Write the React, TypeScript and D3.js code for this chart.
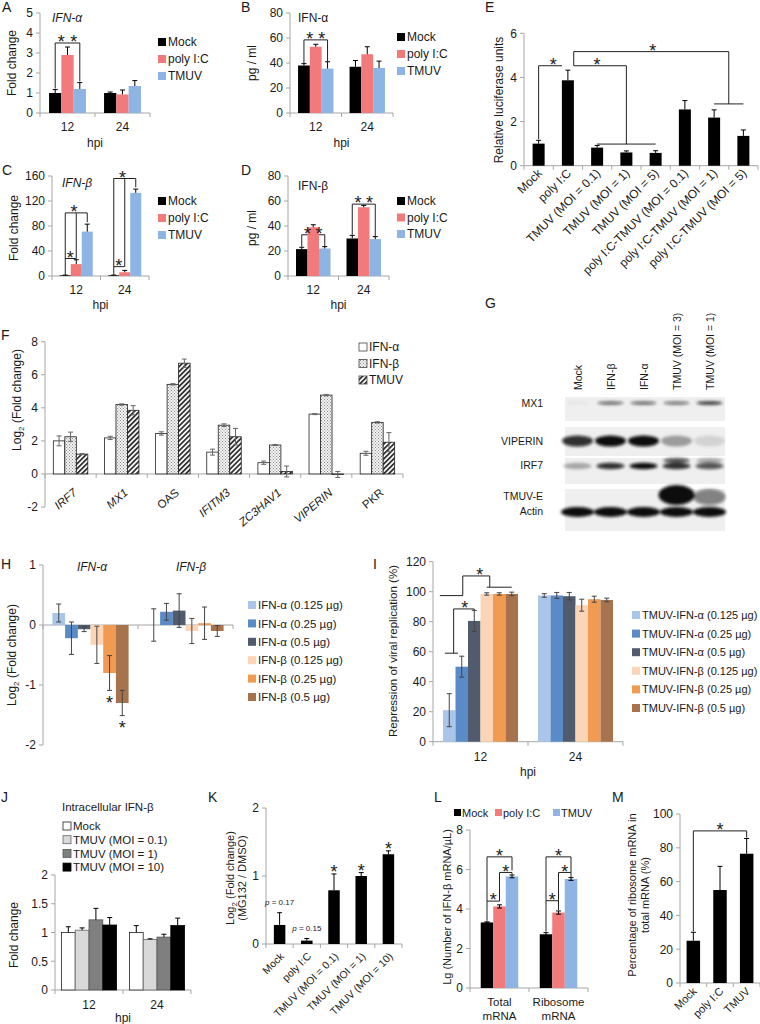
import React from 'react';
import * as d3 from 'd3';

const FONT = '"Liberation Sans", Arial, Helvetica, sans-serif';
const AX = '#a6a6a6';
const TXT = '#1a1a1a';

// ---------- A / B / C / D ----------
const hpi = ['12', '24'];
const ifnGroups = ['Mock', 'poly I:C', 'TMUV'];
const ifnColors = ['#000000', '#f27a7a', '#8db4e2'];
const aValues = [[1.0, 2.9, 1.2], [1.0, 0.93, 1.35]];
const aErrors = [[0.17, 0.4, 0.32], [0.05, 0.22, 0.27]];
const aTicks = [0, 1, 2, 3, 4, 5];
const bValues = [[38, 53, 35.5], [37, 47, 36]];
const bErrors = [[1.5, 2, 5.5], [5, 6, 5.5]];
const bTicks = [0, 20, 40, 60, 80];
const cValues = [[1, 19, 71], [1, 6, 133]];
const cErrors = [[0.5, 7, 12], [0.5, 3, 6]];
const cTicks = [0, 40, 80, 120, 160];
const dValues = [[21.5, 39, 22], [30, 55, 29.5]];
const dErrors = [[1.5, 2, 1.5], [2.5, 1.5, 2]];
const dTicks = [0, 20, 40, 60, 80];

// ---------- E ----------
const eCats = ['Mock', 'poly I:C', 'TMUV (MOI = 0.1)', 'TMUV (MOI = 1)', 'TMUV (MOI = 5)',
  'poly I:C-TMUV (MOI = 0.1)', 'poly I:C-TMUV (MOI = 1)', 'poly I:C-TMUV (MOI = 5)'];
const eValues = [1.0, 3.87, 0.82, 0.6, 0.58, 2.55, 2.18, 1.35];
const eErrors = [0.15, 0.46, 0.1, 0.07, 0.1, 0.4, 0.35, 0.27];
const eTicks = [0, 2, 4, 6];

// ---------- F ----------
const fGenes = ['IRF7', 'MX1', 'OAS', 'IFITM3', 'ZC3HAV1', 'VIPERIN', 'PKR'];
const fItalic = [true, true, false, true, true, true, false];
const fSeries = ['IFN-α', 'IFN-β', 'TMUV'];
const fValues = [[2.0, 2.25, 1.2], [2.18, 4.2, 3.85], [2.45, 5.42, 6.7], [1.32, 2.95, 2.25],
  [0.68, 1.75, 0.15], [3.62, 4.77, -0.03], [1.25, 3.12, 1.92]];
const fErrors = [[0.3, 0.28, 0.03], [0.1, 0.04, 0.28], [0.1, 0.04, 0.25], [0.18, 0.08, 0.5],
  [0.1, 0.03, 0.33], [0.03, 0.04, 0.18], [0.12, 0.04, 0.58]];
const fTicks = [-2, 0, 2, 4, 6, 8];

// ---------- G ----------
const blotLanes = ['Mock', 'IFN-β', 'IFN-α', 'TMUV (MOI = 3)', 'TMUV (MOI = 1)'];
const blotRows = ['MX1', 'VIPERIN', 'IRF7', 'TMUV-E', 'Actin'];
const blotIntensity = [
  [0.03, 0.6, 0.6, 0.55, 0.85],
  [0.85, 1, 1, 0.35, 0.12],
  [0.3, 0.85, 1, 0.85, 0.7],
  [0, 0, 0, 1, 0.5],
  [1, 1, 1, 1, 1],
];
const irf7Upper = [0, 0, 0, 0.7, 0.3];

// ---------- H ----------
const hGroups = ['IFN-α', 'IFN-β'];
const hSeries = ['IFN-α (0.125 µg)', 'IFN-α (0.25 µg)', 'IFN-α (0.5 µg)', 'IFN-β (0.125 µg)', 'IFN-β (0.25 µg)', 'IFN-β (0.5 µg)'];
const doseColors = ['#a9c5e8', '#5b8bc6', '#505c6e', '#fbd5b5', '#f09a52', '#a7734c'];
const hValues = [[0.2, -0.22, -0.07, -0.33, -0.8, -1.3], [0.0, 0.22, 0.24, -0.1, 0.03, -0.1]];
const hErrors = [[0.15, 0.27, 0.04, 0.31, 0.29, 0.21], [0.27, 0.14, 0.28, 0.21, 0.27, 0.09]];
const hTicks = [-2, -1, 0, 1];

// ---------- I ----------
const iSeries = hSeries.map((s) => 'TMUV-' + s);
const iValues = [[21, 50, 80.5, 98.5, 98.5, 98.5], [97.5, 97.5, 97, 91, 95, 94.5]];
const iErrors = [[11, 7, 7, 0.8, 0.8, 1.2], [1.2, 2, 2.5, 4, 2, 1.2]];
const iTicks = [0, 20, 40, 60, 80, 100, 120];

// ---------- J ----------
const jSeries = ['Mock', 'TMUV (MOI = 0.1)', 'TMUV (MOI = 1)', 'TMUV (MOI = 10)'];
const jColors = ['#ffffff', '#d9d9d9', '#7f7f7f', '#000000'];
const jValues = [[1.0, 1.04, 1.22, 1.13], [1.0, 0.88, 0.92, 1.12]];
const jErrors = [[0.1, 0.04, 0.2, 0.13], [0.12, 0.01, 0.05, 0.13]];
const jTicks = [0, 0.5, 1, 1.5, 2];

// ---------- K ----------
const kCats = ['Mock', 'poly I:C', 'TMUV (MOI = 0.1)', 'TMUV (MOI = 1)', 'TMUV (MOI = 10)'];
const kValues = [0.28, 0.05, 0.79, 1.0, 1.32];
const kErrors = [0.18, 0.03, 0.24, 0.05, 0.05];
const kTicks = [0, 1, 2];
const kPvals = ['0.17', '0.15'];

// ---------- L ----------
const lCats = [['Total', 'mRNA'], ['Ribosome', 'mRNA']];
const lValues = [[3.32, 4.13, 5.65], [2.72, 3.82, 5.52]];
const lErrors = [[0.03, 0.08, 0.07], [0.08, 0.08, 0.07]];
const lTicks = [0, 2, 4, 6, 8];

// ---------- M ----------
const mCats = ['Mock', 'poly I:C', 'TMUV'];
const mValues = [25, 55, 76.5];
const mErrors = [5, 14, 9];
const mTicks = [0, 20, 40, 60, 80, 100];

type Pt = number[]; // [group, series offset, value, starOffsetPx?]

interface BarCfg {
  left: number; right: number; top: number; bottom: number;
  domain: [number, number]; ticks: number[];
  cats: string[]; n: number; barW: number;
  values: number[][]; errors: number[][];
  fills: string[]; strokes?: string[];
  errMode: 'up' | 'both'; errColor?: string;
  lines?: Pt[][]; stars?: Pt[];
  fontSize?: number;
}

function makeX(c: BarCfg) {
  const xb = d3.scaleBand<string>().domain(c.cats).range([c.left, c.right]);
  const x0 = xb(c.cats[0]) as number;
  const step = xb.step();
  const cx = (g: number, s: number) => x0 + step * g + xb.bandwidth() / 2 + (s - (c.n - 1) / 2) * c.barW;
  return { xb, x0, step, cx };
}

const STAR_FS = 18;

function Bars({ c }: { c: BarCfg }) {
  const y = d3.scaleLinear().domain(c.domain).range([c.bottom, c.top]);
  const { x0, step, cx } = makeX(c);
  const base = y(0);
  const fs = c.fontSize ?? 12;
  const ec = c.errColor ?? '#000';
  const cap = 2.5;
  const line = d3.line();
  return (
    <g>
      <line x1={c.left} x2={c.left} y1={c.top} y2={c.bottom} stroke={AX} />
      {c.ticks.map((t) => (
        <g key={t}>
          <line x1={c.left - 4} x2={c.left} y1={y(t)} y2={y(t)} stroke={AX} />
          <text x={c.left - 7} y={y(t) + fs * 0.36} textAnchor="end" fontSize={fs}>{String(t)}</text>
        </g>
      ))}
      <line x1={c.left} x2={c.right} y1={base} y2={base} stroke={AX} />
      {d3.range(c.cats.length + 1).map((i) => (
        <line key={i} x1={x0 + i * step} x2={x0 + i * step} y1={base} y2={base + 4} stroke={AX} />
      ))}
      {(c.lines ?? []).map((pl, i) => (
        <path key={i} d={line(pl.map((p) => [cx(p[0], p[1]), y(p[2])] as [number, number])) as string}
          fill="none" stroke="#222" strokeWidth={1} />
      ))}
      {c.values.map((row, g) => row.map((v, s) => {
        const xl = cx(g, s) - c.barW / 2;
        const y1 = Math.min(y(v), base);
        const y2 = Math.max(y(v), base);
        return (
          <rect key={`b${g}-${s}`} x={xl} y={y1} width={c.barW} height={Math.max(0, y2 - y1)}
            fill={c.fills[s]} stroke={c.strokes ? c.strokes[s] : 'none'} strokeWidth={c.strokes ? 0.8 : 0} />
        );
      }))}
      {c.values.map((row, g) => row.map((v, s) => {
        const e = c.errors[g][s];
        const xm = cx(g, s);
        let a: number, b: number;
        if (c.errMode === 'both') { a = v - e; b = v + e; } else { a = v; b = v >= 0 ? v + e : v - e; }
        return (
          <g key={`e${g}-${s}`} stroke={ec} strokeWidth={1}>
            <line x1={xm} x2={xm} y1={y(a)} y2={y(b)} />
            <line x1={xm - cap} x2={xm + cap} y1={y(b)} y2={y(b)} />
            {c.errMode === 'both' && <line x1={xm - cap} x2={xm + cap} y1={y(a)} y2={y(a)} />}
          </g>
        );
      }))}
      {(c.stars ?? []).map((p, i) => {
        const off = p.length > 3 ? p[3] : 5;
        return (
          <text key={i} x={cx(p[0], p[1])} y={y(p[2]) - off + STAR_FS * 0.57} textAnchor="middle" fontSize={STAR_FS}>*</text>
        );
      })}
    </g>
  );
}

function VLegend({ x, y, dy, items, fills, strokes, fs = 12, sq = 8 }:
  { x: number; y: number; dy: number; items: string[]; fills: string[]; strokes?: string[]; fs?: number; sq?: number }) {
  return (
    <g>
      {items.map((it, i) => (
        <g key={it}>
          <rect x={x} y={y + i * dy - sq / 2} width={sq} height={sq} fill={fills[i]}
            stroke={strokes ? strokes[i] : 'none'} strokeWidth={0.8} />
          <text x={x + sq + 2} y={y + i * dy + fs * 0.36} fontSize={fs}>{it}</text>
        </g>
      ))}
    </g>
  );
}

function YLabel({ x, y, text, fs = 12 }: { x: number; y: number; text: React.ReactNode; fs?: number }) {
  return (
    <text transform={`translate(${x},${y}) rotate(-90)`} textAnchor="middle" dy="0.35em" fontSize={fs}>{text}</text>
  );
}

function Letter({ x, y, t }: { x: number; y: number; t: string }) {
  return <text x={x} y={y} fontSize={14}>{t}</text>;
}

const Log2 = () => (<>Log<tspan fontSize="8" dy="3">2</tspan><tspan dy="-3"> (Fold change)</tspan></>);

function HpiLabels({ c, tickY, hpiY }: { c: BarCfg; tickY: number; hpiY: number }) {
  const { cx } = makeX(c);
  return (
    <g fontSize={12} textAnchor="middle">
      {c.cats.map((t, g) => <text key={t} x={cx(g, (c.n - 1) / 2)} y={tickY}>{t}</text>)}
      <text x={(c.left + c.right) / 2} y={hpiY}>hpi</text>
    </g>
  );
}

function RotLabels({ c, y, dx, fs = 11.5, angle = -45, italic }:
  { c: BarCfg; y: number; dx: number; fs?: number; angle?: number; italic?: boolean[] }) {
  const { cx } = makeX(c);
  return (
    <g fontSize={fs}>
      {c.cats.map((t, g) => (
        <text key={t} textAnchor="end" fontStyle={italic && italic[g] ? 'italic' : 'normal'}
          transform={`translate(${cx(g, (c.n - 1) / 2) + dx},${y}) rotate(${angle})`}>{t}</text>
      ))}
    </g>
  );
}

function Blot() {
  const lx = d3.scaleBand<string>().domain(blotLanes).range([561, 726]);
  const rowY = [403, 441, 466, 497, 512];
  const rowRy = [1.8, 5.5, 3.2, 8, 5];
  const rowRx = [13, 15.5, 14, 16, 16.5];
  const strips = [[397, 421], [427, 456], [458, 484], [489, 531]];
  const labelY = [403, 441, 465, 496, 511];
  return (
    <g>
      {strips.map((s, i) => (
        <rect key={i} x={565} y={s[0]} width={160} height={s[1] - s[0]} fill="#efefef" />
      ))}
      <g filter="url(#blur)">
        {blotIntensity.map((row, r) => row.map((v, l) => (
          v > 0 ? (
            <ellipse key={`${r}-${l}`} cx={(lx(blotLanes[l]) as number) + lx.bandwidth() / 2}
              cy={rowY[r] - (r === 3 && l === 3 ? 2 : 0)}
              rx={rowRx[r] + (r === 3 && l === 3 ? 2 : 0)} ry={rowRy[r] + (r === 3 && l === 3 ? 2 : 0)}
              fill="#0d0d0d" fillOpacity={v} />
          ) : null
        )))}
        {irf7Upper.map((v, l) => v > 0 ? (
          <ellipse key={`u${l}`} cx={(lx(blotLanes[l]) as number) + lx.bandwidth() / 2} cy={460.5}
            rx={13} ry={2.5} fill="#0d0d0d" fillOpacity={v} />
        ) : null)}
      </g>
      <g fontSize={10.5} textAnchor="end">
        {blotRows.map((r, i) => <text key={r} x={543} y={labelY[i] + 4}>{r}</text>)}
      </g>
      <g fontSize={10.5}>
        {blotLanes.map((l) => (
          <text key={l} transform={`translate(${(lx(l) as number) + lx.bandwidth() / 2 + 4},390) rotate(-90)`}>{l}</text>
        ))}
      </g>
    </g>
  );
}

export default function App() {
  const A: BarCfg = {
    left: 40, right: 150, top: 13, bottom: 113, domain: [0, 5], ticks: aTicks, cats: hpi, n: 3, barW: 12.3,
    values: aValues, errors: aErrors, fills: ifnColors, errMode: 'up',
    lines: [[[0, 0, 1.22], [0, 0, 3.5], [0, 2, 3.5], [0, 2, 1.58]]],
    stars: [[0, 0.5, 3.5], [0, 1.5, 3.5]],
  };
  const B: BarCfg = {
    left: 290, right: 393, top: 13, bottom: 113, domain: [0, 80], ticks: bTicks, cats: hpi, n: 3, barW: 11.8,
    values: bValues, errors: bErrors, fills: ifnColors, errMode: 'up',
    lines: [[[0, 0, 40], [0, 0, 58.5], [0, 2, 58.5], [0, 2, 41.5]]],
    stars: [[0, 0.5, 58.5], [0, 1.5, 58.5]],
  };
  const C: BarCfg = {
    left: 52, right: 149, top: 176, bottom: 276, domain: [0, 160], ticks: cTicks, cats: hpi, n: 3, barW: 11,
    values: cValues, errors: cErrors, fills: ifnColors, errMode: 'up',
    lines: [
      [[0, 0, 2], [0, 0, 101], [0, 2, 101], [0, 2, 86]],
      [[0, 0, 28], [0, 1, 28], [0, 1, 101]],
      [[1, 0, 2], [1, 0, 156], [1, 2, 156], [1, 2, 142]],
      [[1, 0, 15], [1, 1, 15], [1, 1, 156]],
    ],
    stars: [[0, 0.45, 28], [0, 0.8, 101], [1, 0.45, 15], [1, 0.8, 156]],
  };
  const D: BarCfg = {
    left: 288, right: 389, top: 176, bottom: 276, domain: [0, 80], ticks: dTicks, cats: hpi, n: 3, barW: 11.5,
    values: dValues, errors: dErrors, fills: ifnColors, errMode: 'up',
    lines: [[[0, 0, 23.5], [0, 0, 33], [0, 2, 33], [0, 2, 24]], [[1, 0, 33], [1, 0, 57.5], [1, 2, 57.5], [1, 2, 32]]],
    stars: [[0, 0.5, 33], [0, 1.5, 33], [1, 0.5, 57.5], [1, 1.5, 57.5]],
  };
  const E: BarCfg = {
    left: 524, right: 758, top: 33.3, bottom: 165.7, domain: [0, 6], ticks: eTicks, cats: eCats, n: 1, barW: 12,
    values: eValues.map((v) => [v]), errors: eErrors.map((e) => [e]), fills: ['#000'], errMode: 'up',
    lines: [
      [[0, 0, 1.2], [0, 0, 4.53], [0.8, 0, 4.53]],
      [[1.2, 0, 4.53], [3, 0, 4.53], [3, 0, 0.98]],
      [[2, 0, 0.98], [4, 0, 0.98]],
      [[1.2, 0, 4.53], [1.2, 0, 5.17], [6.5, 0, 5.17], [6.5, 0, 2.8]],
      [[6, 0, 2.8], [7, 0, 2.8]],
    ],
    stars: [[0.5, 0, 4.53], [2, 0, 4.53], [3.9, 0, 5.17]],
  };
  const F: BarCfg = {
    left: 45, right: 403, top: 341.7, bottom: 507, domain: [-2, 8], ticks: fTicks, cats: fGenes, n: 3, barW: 11.5,
    values: fValues, errors: fErrors, fills: ['#ffffff', 'url(#dots)', 'url(#hatch)'], strokes: ['#222', '#222', '#222'],
    errMode: 'both', errColor: '#666',
  };
  const H: BarCfg = {
    left: 43, right: 233, top: 565, bottom: 745, domain: [-2, 1], ticks: hTicks, cats: hGroups, n: 6, barW: 12.7,
    values: hValues, errors: hErrors, fills: doseColors, errMode: 'both', errColor: '#444',
    stars: [[0, 4, -1.23, 0], [0, 5, -1.65, 0]],
  };
  const I: BarCfg = {
    left: 433, right: 623, top: 561.7, bottom: 741.7, domain: [0, 120], ticks: iTicks, cats: hpi, n: 6, barW: 12.5,
    values: iValues, errors: iErrors, fills: doseColors, errMode: 'both', errColor: '#444',
    lines: [
      [[0, -0.35, 59], [0, 0.7, 59]],
      [[0, 0.35, 59], [0, 0.35, 88.5], [0, 2, 88.5], [0, 2, 87.5]],
      [[0, -0.75, 97.4], [0, 1.08, 97.4]],
      [[0, 1.08, 97.4], [0, 1.08, 110.5], [0, 3.24, 110.5], [0, 3.24, 103]],
      [[0, 3, 103], [0, 5, 103]],
    ],
    stars: [[0, 1.25, 88.5], [0, 2.44, 110.5]],
  };
  const J: BarCfg = {
    left: 55, right: 191, top: 875, bottom: 990, domain: [0, 2], ticks: jTicks, cats: hpi, n: 4, barW: 13.8,
    values: jValues, errors: jErrors, fills: jColors, strokes: ['#222', '#666', '#555', '#000'], errMode: 'up',
  };
  const K: BarCfg = {
    left: 266, right: 402, top: 808, bottom: 944, domain: [0, 2], ticks: kTicks, cats: kCats, n: 1, barW: 11.5,
    values: kValues.map((v) => [v]), errors: kErrors.map((e) => [e]), fills: ['#000'], errMode: 'up',
    stars: [[2, 0, 1.03, 6], [3, 0, 1.05, 6], [4, 0, 1.37, 6]],
  };
  const L: BarCfg = {
    left: 470, right: 588, top: 830, bottom: 988, domain: [0, 8], ticks: lTicks, cats: lCats.map((c) => c.join(' ')), n: 3, barW: 12.5,
    values: lValues, errors: lErrors, fills: ifnColors, errMode: 'both',
    lines: [
      [[0, 0, 3.4], [0, 0, 6.64], [0, 2, 6.64], [0, 2, 5.95]],
      [[0, 0, 4.4], [0, 1, 4.4], [0, 1, 5.85], [0, 2, 5.85], [0, 2, 5.75]],
      [[1, 0, 2.85], [1, 0, 6.64], [1, 2, 6.64], [1, 2, 5.85]],
      [[1, 0, 4.42], [1, 1, 4.42]],
      [[1, 1, 3.95], [1, 1, 5.85], [1, 2, 5.85], [1, 2, 5.62]],
    ],
    stars: [[0, 0.5, 4.4], [0, 1.5, 5.85], [0, 1, 6.64], [1, 0.5, 4.42], [1, 1.5, 5.85], [1, 1, 6.64]],
  };
  const M: BarCfg = {
    left: 680, right: 760, top: 814, bottom: 983, domain: [0, 100], ticks: mTicks, cats: mCats, n: 1, barW: 13.5,
    values: mValues.map((v) => [v]), errors: mErrors.map((e) => [e]), fills: ['#000'], errMode: 'up',
    lines: [[[0, 0, 30.5], [0, 0, 90], [2, 0, 90], [2, 0, 86]]],
    stars: [[1, 0, 90]],
  };

  const kx = makeX(K);
  const ky = d3.scaleLinear().domain(K.domain).range([K.bottom, K.top]);
  const lx = makeX(L);

  return (
    <svg width={760} height={1024} style={{ position: 'absolute', left: 0, top: 0, background: '#fff' }}
      fontFamily={FONT} fill={TXT}>
      <defs>
        <pattern id="dots" width="3" height="3" patternUnits="userSpaceOnUse">
          <rect width="3" height="3" fill="#f4f4f4" />
          <rect x="0" y="0" width="1" height="1" fill="#8a8a8a" />
          <rect x="1.5" y="1.5" width="1" height="1" fill="#8a8a8a" />
        </pattern>
        <pattern id="hatch" width="3.5" height="3.5" patternUnits="userSpaceOnUse" patternTransform="rotate(45)">
          <rect width="3.5" height="3.5" fill="#ffffff" />
          <line x1="0.9" y1="0" x2="0.9" y2="3.5" stroke="#333" strokeWidth="1.8" />
        </pattern>
        <filter id="blur" x="-50%" y="-50%" width="200%" height="200%">
          <feGaussianBlur stdDeviation="1.6" />
        </filter>
      </defs>
      <rect width={760} height={1024} fill="#fff" />

      {/* A */}
      <Letter x={2} y={12} t="A" />
      <Bars c={A} />
      <text x={52} y={22} fontSize={12} fontStyle="italic">IFN-α</text>
      <YLabel x={12} y={63} text="Fold change" />
      <HpiLabels c={A} tickY={131} hpiY={147} />
      <VLegend x={158} y={42} dy={17} items={ifnGroups} fills={ifnColors} />

      {/* B */}
      <Letter x={241} y={12} t="B" />
      <Bars c={B} />
      <text x={298} y={22} fontSize={12}>IFN-α</text>
      <YLabel x={252} y={63} text="pg / ml" />
      <HpiLabels c={B} tickY={131} hpiY={147} />
      <VLegend x={397} y={37} dy={17} items={ifnGroups} fills={ifnColors} />

      {/* C */}
      <Letter x={2} y={175} t="C" />
      <Bars c={C} />
      <text x={62} y={187} fontSize={12} fontStyle="italic">IFN-β</text>
      <YLabel x={14} y={228} text="Fold change" />
      <HpiLabels c={C} tickY={294} hpiY={309} />
      <VLegend x={158} y={201} dy={17} items={ifnGroups} fills={ifnColors} />

      {/* D */}
      <Letter x={241} y={175} t="D" />
      <Bars c={D} />
      <text x={298} y={190} fontSize={12}>IFN-β</text>
      <YLabel x={252} y={228} text="pg / ml" />
      <HpiLabels c={D} tickY={294} hpiY={309} />
      <VLegend x={397} y={201} dy={16.5} items={ifnGroups} fills={ifnColors} />

      {/* E */}
      <Letter x={485} y={12} t="E" />
      <Bars c={E} />
      <YLabel x={499} y={100} text="Relative luciferase units" />
      <RotLabels c={E} y={174} dx={4} fs={12} />

      {/* F */}
      <Letter x={1} y={340} t="F" />
      <Bars c={F} />
      <YLabel x={17} y={400} text={<Log2 />} />
      <RotLabels c={F} y={494} dx={7} fs={11.5} angle={-40} italic={fItalic} />
      <VLegend x={359} y={347} dy={16.5} items={fSeries} fills={['#ffffff', 'url(#dots)', 'url(#hatch)']} strokes={['#444', '#444', '#444']} />

      {/* G */}
      <Letter x={485} y={308} t="G" />
      <Blot />

      {/* H */}
      <Letter x={1} y={569} t="H" />
      <Bars c={H} />
      <text x={92} y={571} fontSize={12} fontStyle="italic" textAnchor="middle">IFN-α</text>
      <text x={191} y={571} fontSize={12} fontStyle="italic" textAnchor="middle">IFN-β</text>
      <YLabel x={12} y={655} text={<Log2 />} />
      <VLegend x={248} y={605} dy={18.4} items={hSeries} fills={doseColors} fs={11.5} />

      {/* I */}
      <Letter x={373} y={569} t="I" />
      <Bars c={I} />
      <YLabel x={393} y={651} text="Repression of viral replication (%)" fs={11.5} />
      <HpiLabels c={I} tickY={761} hpiY={776} />
      <VLegend x={632} y={615} dy={18.6} items={iSeries} fills={doseColors} fs={11} />

      {/* J */}
      <Letter x={1} y={802} t="J" />
      <Bars c={J} />
      <text x={62} y={811} fontSize={11.5}>Intracellular  IFN-β</text>
      <VLegend x={63} y={826} dy={13.7} items={jSeries} fills={jColors} strokes={['#222', '#666', '#555', '#000']} fs={11.5} />
      <YLabel x={14} y={935} text="Fold change" />
      <HpiLabels c={J} tickY={1009} hpiY={1022} />

      {/* K */}
      <Letter x={208} y={802} t="K" />
      <Bars c={K} />
      <YLabel x={230} y={878} text={<Log2 />} fs={11} />
      <YLabel x={242} y={878} text="(MG132 / DMSO)" fs={11} />
      {kPvals.map((p, i) => (
        <text key={p} x={kx.cx(i, 0)} y={ky(kValues[i] + kErrors[i]) - 8} fontSize={8} textAnchor="middle">
          <tspan fontStyle="italic">p</tspan> = {p}
        </text>
      ))}
      <RotLabels c={K} y={957} dx={5} fs={10.5} />

      {/* L */}
      <Letter x={434} y={802} t="L" />
      <Bars c={L} />
      <YLabel x={447} y={907} text="Lg (Number of IFN-β mRNA/µL)" fs={11} />
      <g fontSize={11}>
        <rect x={454} y={809} width={7} height={7} fill={ifnColors[0]} />
        <text x={462} y={817}>{ifnGroups[0]}</text>
        <rect x={495} y={809} width={7} height={7} fill={ifnColors[1]} />
        <text x={503} y={817}>{ifnGroups[1]}</text>
        <rect x={553} y={809} width={7} height={7} fill={ifnColors[2]} />
        <text x={561} y={817}>{ifnGroups[2]}</text>
      </g>
      <g fontSize={11.5} textAnchor="middle">
        {lCats.map((c, g) => (
          <text key={g} x={lx.cx(g, 1)} y={1006}>
            <tspan x={lx.cx(g, 1)}>{c[0]}</tspan>
            <tspan x={lx.cx(g, 1)} dy={14}>{c[1]}</tspan>
          </text>
        ))}
      </g>

      {/* M */}
      <Letter x={612} y={802} t="M" />
      <Bars c={M} />
      <YLabel x={632} y={895} text="Percentage of ribosome mRNA in" fs={11} />
      <YLabel x={645} y={895} text="total mRNA (%)" fs={11} />
      <RotLabels c={M} y={992} dx={4} fs={11} />
    </svg>
  );
}
